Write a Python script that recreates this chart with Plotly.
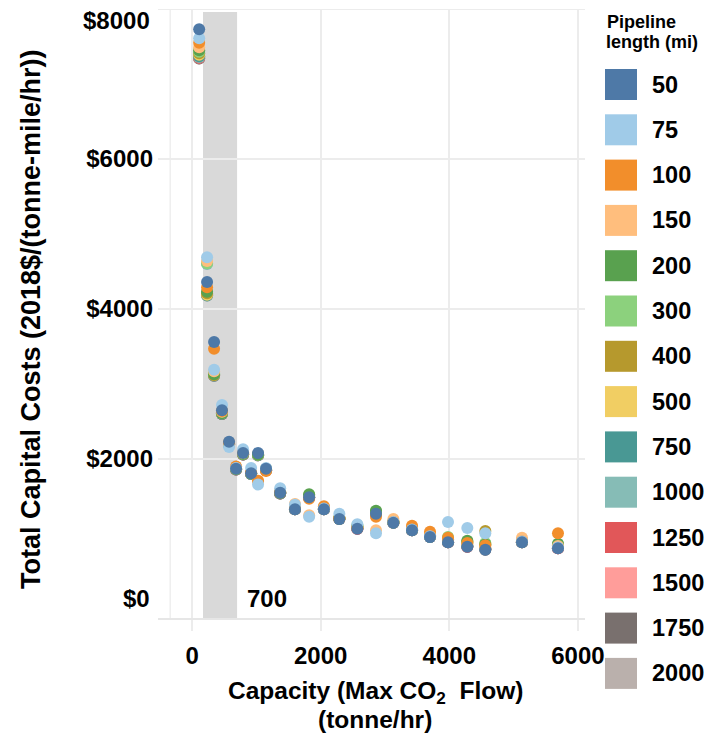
import plotly.graph_objects as go

# ---- data ----
lengths = ["50", "75", "100", "150", "200", "300", "400", "500",
           "750", "1000", "1250", "1500", "1750", "2000"]
colors = ["#4E79A7", "#A0CBE8", "#F28E2B", "#FFBE7D", "#59A14F", "#8CD17D", "#B6992D",
          "#F1CE63", "#499894", "#86BCB6", "#E15759", "#FF9D9A", "#79706E", "#BAB0AC"]

capacity = [110, 233, 342, 465, 575, 684, 793, 918, 1026, 1150, 1370, 1600, 1820,
            2050, 2290, 2570, 2860, 3130, 3420, 3700, 3980, 4280, 4560, 5130, 5690]

s50 = [7730, 4360, 3560, 2650, 2230, 1870, 2080, 1810, 2080, 1870, 1550, 1330, 1490,
       1330, 1200, 1070, 1270, 1150, 1050, 960, 890, 830, 790, 890, 810]
s75 = [7610, 4690, 3190, 2720, 2160, 1880, 2130, 1880, 1660, 1880, 1610, 1390, 1230,
       1340, 1270, 1130, 1010, 1160, 1060, 970, 1160, 1080, 1010, 900, 820]
s100 = [7550, 4290, 3470, 2640, 2220, 1900, 2090, 1820, 1710, 1840, 1560, 1340, 1470,
        1370, 1210, 1080, 1230, 1160, 1110, 1030, 950, 880, 850, 900, 1010]
s150 = [7490, 4640, 3170, 2630, 2210, 1880, 2080, 1820, 1700, 1860, 1560, 1400, 1250,
        1340, 1210, 1090, 1050, 1200, 1100, 1000, 920, 860, 820, 950, 840]
s200 = [7450, 4230, 3130, 2610, 2200, 1870, 2070, 1810, 2060, 1860, 1550, 1340, 1530,
        1340, 1210, 1100, 1310, 1160, 1060, 980, 920, 910, 860, 900, 870]
s300 = [7430, 4610, 3140, 2620, 2200, 1870, 2070, 1810, 2060, 1860, 1560, 1340, 1520,
        1340, 1220, 1120, 1300, 1160, 1070, 990, 960, 890, 880, 910, 860]
s400 = [7410, 4210, 3120, 2620, 2200, 1870, 2070, 1810, 2060, 1860, 1550, 1340, 1510,
        1340, 1210, 1100, 1290, 1160, 1060, 980, 930, 900, 1040, 900, 850]
s500 = [7390, 4190, 3120, 2610, 2200, 1870, 2070, 1810, 2060, 1860, 1550, 1340, 1500,
        1340, 1210, 1090, 1280, 1160, 1060, 970, 920, 880, 870, 900, 840]
s750 = [7370, 4180, 3110, 2600, 2190, 1860, 2060, 1800, 2050, 1850, 1540, 1330, 1490,
        1330, 1200, 1080, 1270, 1150, 1050, 960, 890, 840, 800, 890, 820]
s1000 = [7360, 4600, 3150, 2620, 2200, 1870, 2070, 1800, 2060, 1860, 1550, 1330, 1500,
         1330, 1200, 1080, 1280, 1150, 1050, 960, 900, 840, 800, 890, 820]
s1250 = [7350, 4200, 3120, 2600, 2200, 1860, 2060, 1800, 2060, 1850, 1540, 1330, 1490,
         1330, 1200, 1070, 1270, 1150, 1050, 960, 890, 830, 800, 890, 810]
s1500 = [7350, 4190, 3110, 2600, 2190, 1860, 2060, 1800, 2050, 1850, 1540, 1330, 1490,
         1330, 1200, 1070, 1270, 1150, 1050, 960, 890, 830, 800, 890, 810]
s1750 = [7340, 4190, 3110, 2600, 2190, 1860, 2060, 1800, 2050, 1850, 1540, 1330, 1490,
         1330, 1200, 1070, 1270, 1150, 1050, 960, 890, 830, 790, 890, 810]
s2000 = [7340, 4180, 3110, 2600, 2190, 1860, 2060, 1800, 2050, 1850, 1540, 1330, 1490,
         1330, 1200, 1070, 1270, 1150, 1050, 960, 890, 830, 790, 890, 810]

series = [s50, s75, s100, s150, s200, s300, s400, s500,
          s750, s1000, s1250, s1500, s1750, s2000]

x_ticks = [0, 2000, 4000, 6000]
y_ticks = [2000, 4000, 6000]
y_ticktext = ["$2000", "$4000", "$6000"]
y_top, y_bottom = 8000, 0
band_start, band_end = 170, 700

FONT = "Liberation Sans, Arial, sans-serif"

def bold(size):
    return dict(size=size, family=FONT, color="black", weight="bold")

# ---- figure ----
fig = go.Figure()
for name, col, vals in reversed(list(zip(lengths, colors, series))):
    fig.add_trace(go.Scatter(
        x=capacity, y=vals, mode="markers", name=name,
        marker=dict(color=col, size=12, line=dict(width=0)),
        showlegend=False,
    ))

W, H = 706, 733
L, T = 158, 9
PR, PB = 585, 618
R, B = W - PR, H - PB
pw, ph = PR - L, PB - T

def px_x(p):                 # page pixel -> paper x
    return (p - L) / pw

def px_y(p):                 # page pixel -> paper y
    return (PB - p) / ph

GRID = "#ececec"
shapes = [
    dict(type="rect", xref="x", yref="paper", x0=band_start, x1=band_end, y0=0, y1=0.995,
         fillcolor="#d9d9d9", line=dict(width=0), layer="below"),
    dict(type="line", xref="x", yref="paper", x0=0, x1=0, y0=-0.018, y1=0.995,
         line=dict(color="#b0b0b0", width=1.5, dash="dash"), layer="below"),
    dict(type="line", xref="x", yref="paper", x0=-340, x1=-340, y0=0, y1=1,
         line=dict(color="#efefef", width=1.5), layer="below"),
    dict(type="line", xref="paper", yref="y", x0=0, x1=1, y0=y_top, y1=y_top,
         line=dict(color=GRID, width=2), layer="below"),
]

annotations = [
    dict(text="$" + str(y_top), xref="paper", yref="y", x=0, y=y_top, xanchor="right",
         yanchor="middle", xshift=-6, yshift=-11, showarrow=False, font=bold(24)),
    dict(text="$" + str(y_bottom), xref="paper", yref="y", x=0, y=y_bottom, xanchor="right",
         yanchor="middle", xshift=-6, yshift=11, showarrow=False, font=bold(24)),
    dict(text=str(band_end), xref="x", yref="y", x=band_end, y=0, xanchor="left", yanchor="middle",
         xshift=8, yshift=11, showarrow=False, font=bold(24)),
    dict(text="Total Capital Costs (2018$/(tonne-mile/hr))", xref="paper", yref="paper",
         x=px_x(31), y=px_y(319), textangle=-90, xanchor="center", yanchor="middle",
         showarrow=False, font=bold(27)),
    dict(text="Capacity (Max CO<sub>2</sub>  Flow)", xref="paper", yref="paper",
         x=px_x(375), y=px_y(692), xanchor="center", yanchor="middle", showarrow=False,
         font=bold(24.5)),
    dict(text="(tonne/hr)", xref="paper", yref="paper",
         x=px_x(375), y=px_y(719), xanchor="center", yanchor="middle", showarrow=False,
         font=bold(24.5)),
    dict(text="Pipeline", xref="paper", yref="paper", x=px_x(605), y=px_y(22),
         xanchor="left", yanchor="middle", showarrow=False, font=bold(18)),
    dict(text="length (mi)", xref="paper", yref="paper", x=px_x(604), y=px_y(42),
         xanchor="left", yanchor="middle", showarrow=False, font=bold(18)),
]

for i, (name, col) in enumerate(zip(lengths, colors)):
    cy = 84.5 + 45.3 * i
    shapes.append(dict(type="rect", xref="paper", yref="paper",
                       x0=px_x(605), x1=px_x(637), y0=px_y(cy + 15.5), y1=px_y(cy - 15.5),
                       fillcolor=col, line=dict(width=0)))
    annotations.append(dict(text=name, xref="paper", yref="paper", x=px_x(650), y=px_y(cy),
                            xanchor="left", yanchor="middle", showarrow=False,
                            font=bold(23.5)))

fig.update_layout(
    width=W, height=H,
    margin=dict(l=L, r=R, t=T, b=B),
    plot_bgcolor="white", paper_bgcolor="white",
    font=dict(family=FONT, color="black"),
    shapes=shapes, annotations=annotations,
    xaxis=dict(range=[-530, 6110], tickvals=x_ticks, ticktext=[str(v) for v in x_ticks],
               showgrid=True, gridcolor=GRID, gridwidth=2, zeroline=False,
               showline=True, linecolor="#e6e6e6", linewidth=2,
               ticks="outside", ticklen=11, tickwidth=2, tickcolor=GRID,
               ticklabelstandoff=4, tickfont=bold(24)),
    yaxis=dict(range=[-120, 8000], tickvals=y_ticks, ticktext=y_ticktext,
               showgrid=True, gridcolor=GRID, gridwidth=2, zeroline=False,
               showline=False, ticks="", ticklabelstandoff=4, tickfont=bold(24)),
)

fig.write_html("out.html", config={"displayModeBar": False},
               post_script="document.body.style.margin='0';document.body.style.overflow='hidden';")
